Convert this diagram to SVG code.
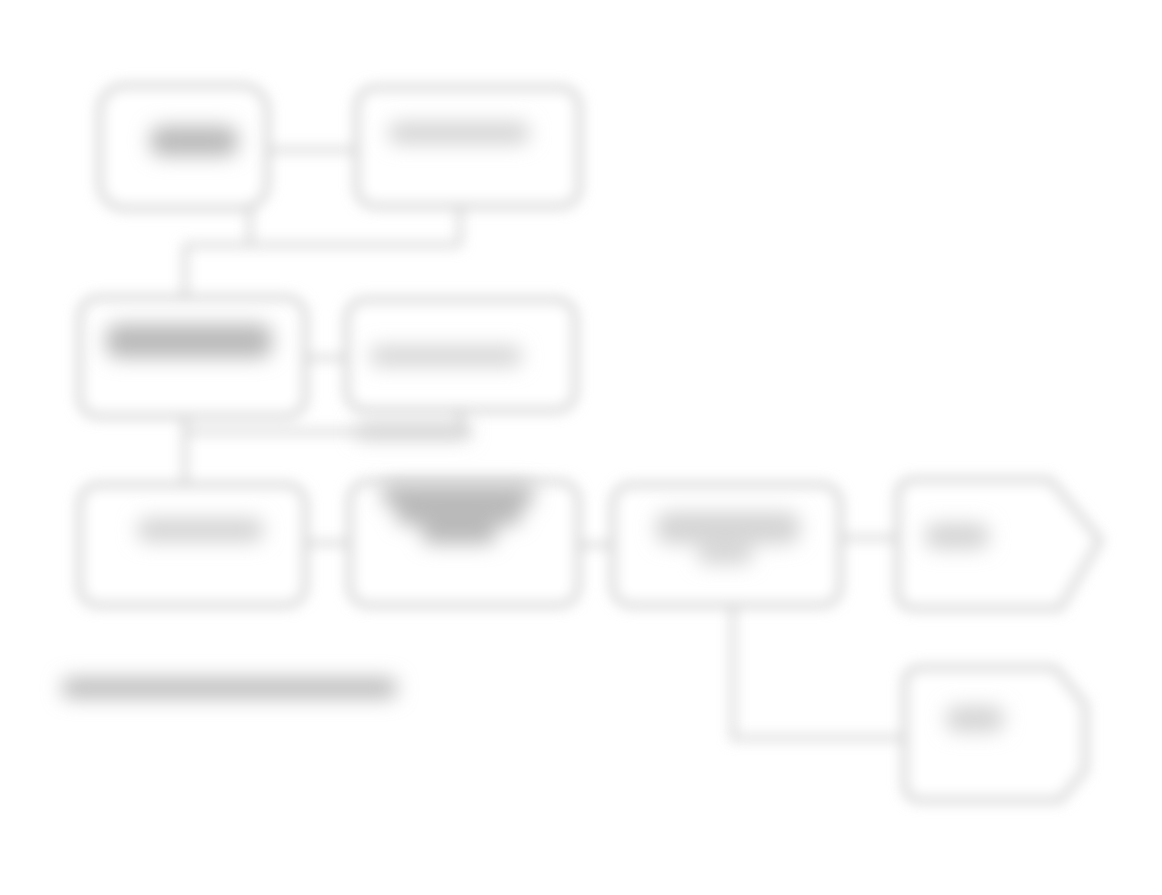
<svg xmlns="http://www.w3.org/2000/svg" width="1162" height="895" viewBox="0 0 1162 895">
  <defs>
    <filter id="blur" x="-20%" y="-20%" width="140%" height="140%">
      <feGaussianBlur stdDeviation="6.5"/>
    </filter>
    <filter id="blurText" x="-30%" y="-80%" width="160%" height="260%">
      <feGaussianBlur stdDeviation="10"/>
    </filter>
  </defs>
  <style>
    .box { fill: #ffffff; stroke: #cdcdcd; stroke-width: 6; }
    .wire { fill: none; stroke: #d0d0d0; stroke-width: 5; }
    .smudge { fill: #bababa; }
    .smudge-light { fill: #d4d4d4; }
  </style>
  <rect x="0" y="0" width="1162" height="895" fill="#ffffff"/>
  <g filter="url(#blur)">
    <g id="connectors">
      <path class="wire" d="M267 150 H355"/>
      <path class="wire" d="M250 207 V245 M460 205 V245 M185 245 H460 M185 245 V297"/>
      <path class="wire" d="M305 358 H348"/>
      <path class="wire" d="M185 415 V485 M185 432 H470 M460 410 V432"/>
      <path class="wire" d="M305 543 H350"/>
      <path class="wire" d="M578 545 H613"/>
      <path class="wire" d="M840 538 H898"/>
      <path class="wire" d="M733 607 V738 H905"/>
    </g>
    <g id="node-a">
      <rect class="box" x="100" y="86" width="167" height="122" rx="24"/>
    </g>
    <g id="node-b">
      <rect class="box" x="357" y="88" width="222" height="118" rx="18"/>
    </g>
    <g id="node-c">
      <rect class="box" x="80" y="298" width="225" height="118" rx="18"/>
    </g>
    <g id="node-d">
      <rect class="box" x="347" y="300" width="228" height="110" rx="18"/>
    </g>
    <g id="node-e">
      <rect class="box" x="80" y="485" width="225" height="120" rx="18"/>
    </g>
    <g id="node-f">
      <rect class="box" x="350" y="482" width="228" height="123" rx="18"/>
    </g>
    <g id="node-g">
      <rect class="box" x="613" y="485" width="227" height="120" rx="18"/>
    </g>
    <g id="node-h">
      <path class="box" d="M915 480 H1050 L1100 540 L1060 608 H915 Q898 608 898 592 V496 Q898 480 915 480 Z"/>
    </g>
    <g id="node-i">
      <path class="box" d="M922 668 H1055 L1085 705 V770 L1060 800 H922 Q905 800 905 784 V684 Q905 668 922 668 Z"/>
    </g>
  </g>
  <g filter="url(#blurText)">
    <rect class="smudge" x="150" y="126" width="88" height="30" rx="12"/>
    <rect class="smudge-light" x="388" y="122" width="142" height="22" rx="10"/>
    <rect class="smudge" x="106" y="324" width="166" height="34" rx="12"/>
    <rect class="smudge-light" x="370" y="346" width="152" height="20" rx="8"/>
    <rect class="smudge-light" x="355" y="423" width="115" height="16" rx="6"/>
    <rect class="smudge-light" x="137" y="518" width="127" height="24" rx="10"/>
    <rect class="smudge" x="382" y="484" width="152" height="22" rx="8"/>
    <rect class="smudge" x="396" y="505" width="126" height="20" rx="8"/>
    <rect class="smudge" x="422" y="524" width="74" height="20" rx="8"/>
    <rect class="smudge-light" x="656" y="512" width="144" height="32" rx="12"/>
    <rect class="smudge-light" x="698" y="546" width="54" height="18" rx="6"/>
    <rect class="smudge-light" x="925" y="523" width="64" height="26" rx="10"/>
    <rect class="smudge-light" x="946" y="706" width="58" height="26" rx="10"/>
    <rect class="smudge" x="62" y="678" width="335" height="20" rx="8"/>
  </g>
</svg>
